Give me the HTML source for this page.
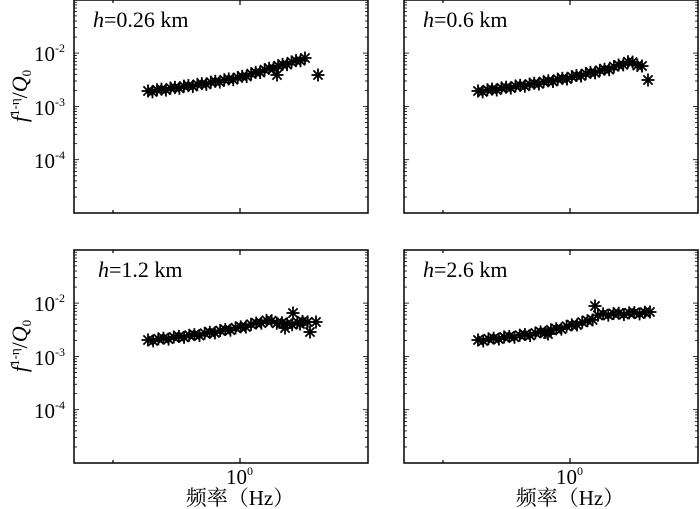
<!DOCTYPE html>
<html><head><meta charset="utf-8"><style>
html,body{margin:0;padding:0;background:#fff;}
svg{display:block;}
text{font-family:"Liberation Serif","Noto Serif CJK SC",serif;fill:#000;}
</style></head><body>
<svg id="s" width="700" height="509" viewBox="0 0 700 509" xmlns="http://www.w3.org/2000/svg">
<g id="g"></g>
<text x="93" y="27" font-size="22"><tspan font-style="italic">h</tspan>=0.26 km</text>
<text x="423" y="27" font-size="22"><tspan font-style="italic">h</tspan>=0.6 km</text>
<text x="98" y="277" font-size="22"><tspan font-style="italic">h</tspan>=1.2 km</text>
<text x="423" y="277" font-size="22"><tspan font-style="italic">h</tspan>=2.6 km</text>
<text x="226" y="484" font-size="21">10<tspan font-size="12" dy="-9">0</tspan></text>
<text x="556" y="484" font-size="21">10<tspan font-size="12" dy="-9">0</tspan></text>
<text x="240" y="505" font-size="21" text-anchor="middle">频率（Hz）</text>
<text x="570" y="505" font-size="21" text-anchor="middle">频率（Hz）</text>
<text transform="translate(27,96) rotate(-90)" font-size="22" text-anchor="middle"><tspan font-style="italic">f</tspan><tspan font-size="13" dy="-8">1-η</tspan><tspan dy="8">/</tspan><tspan font-style="italic">Q</tspan><tspan font-size="13" dy="4">0</tspan></text>
<text transform="translate(27,346) rotate(-90)" font-size="22" text-anchor="middle"><tspan font-style="italic">f</tspan><tspan font-size="13" dy="-8">1-η</tspan><tspan dy="8">/</tspan><tspan font-style="italic">Q</tspan><tspan font-size="13" dy="4">0</tspan></text>
</svg>
<script>
var g=document.getElementById('g'),h='';
function tl(x,y,e){return '<text x="'+x+'" y="'+y+'" font-size="21">10<tspan font-size="12" dy="-9">'+e+'</tspan></text>';}
var panels=[[74,0],[404,0],[74,250],[404,250]];
panels.forEach(function(p,i){
 var x0=p[0],y0=p[1],w=294,H=213;
 h+='<rect x="'+x0+'" y="'+y0+'" width="'+w+'" height="'+H+'" fill="none" stroke="#000" stroke-width="1.5"/>';
 for(var d=0;d<4;d++){var yb=y0+H-d*53.3;
  for(var k=1;k<10;k++){var yy=yb-Math.log10(k)*53.3;var L=k==1?5:3;
   h+='<line x1="'+x0+'" y1="'+yy+'" x2="'+(x0+L)+'" y2="'+yy+'" stroke="#000" stroke-width="0.8"/>';
   h+='<line x1="'+(x0+w)+'" y1="'+yy+'" x2="'+(x0+w-L)+'" y2="'+yy+'" stroke="#000" stroke-width="0.8"/>';}}
 [39,166].forEach(function(t){var xx=x0+t;
  h+='<line x1="'+xx+'" y1="'+(y0+H)+'" x2="'+xx+'" y2="'+(y0+H-(t==166?5:3))+'" stroke="#000" stroke-width="1.2"/>';
  h+='<line x1="'+xx+'" y1="'+y0+'" x2="'+xx+'" y2="'+(y0+(t==166?5:3))+'" stroke="#000" stroke-width="1.2"/>';});
 if(x0==74){h+=tl(34,y0+61,'-2')+tl(34,y0+115,'-3')+tl(34,y0+168,'-4');}
});
function star(x,y){var r=6.5,s='';for(var a=0;a<4;a++){var t=a*Math.PI/4;s+='<line x1="'+(x-r*Math.cos(t))+'" y1="'+(y-r*Math.sin(t))+'" x2="'+(x+r*Math.cos(t))+'" y2="'+(y+r*Math.sin(t))+'" stroke="#000" stroke-width="1.8"/>';}return s;}
function path(pts,n,x1,x2){var s='';for(var i=0;i<n;i++){var x=x1+(x2-x1)*i/(n-1);
 for(var j=0;j<pts.length-1;j++){if(x>=pts[j][0]&&x<=pts[j+1][0]){var f=(x-pts[j][0])/(pts[j+1][0]-pts[j][0]);s+=star(x,pts[j][1]+f*(pts[j+1][1]-pts[j][1])+(i%3==1?1.5:0));break;}}}return s;}
h+=path([[148,91],[200,84],[240,77],[270,68],[305,58]],36,148,305)+star(277,75)+star(318,75);
h+=path([[478,91],[530,84],[570,77],[610,68],[630,61],[642,66]],36,478,642)+star(648,80);
h+=path([[148,340],[200,334],[240,327],[268,320],[288,324],[310,320]],34,148,318)+star(285,328)+star(293,313)+star(300,324)+star(310,332)+star(316,322);
h+=path([[478,340],[530,334],[560,328],[590,320],[600,314],[650,312]],34,478,650)+star(595,306)+star(548,334);
g.innerHTML=h;
</script>
</body></html>
